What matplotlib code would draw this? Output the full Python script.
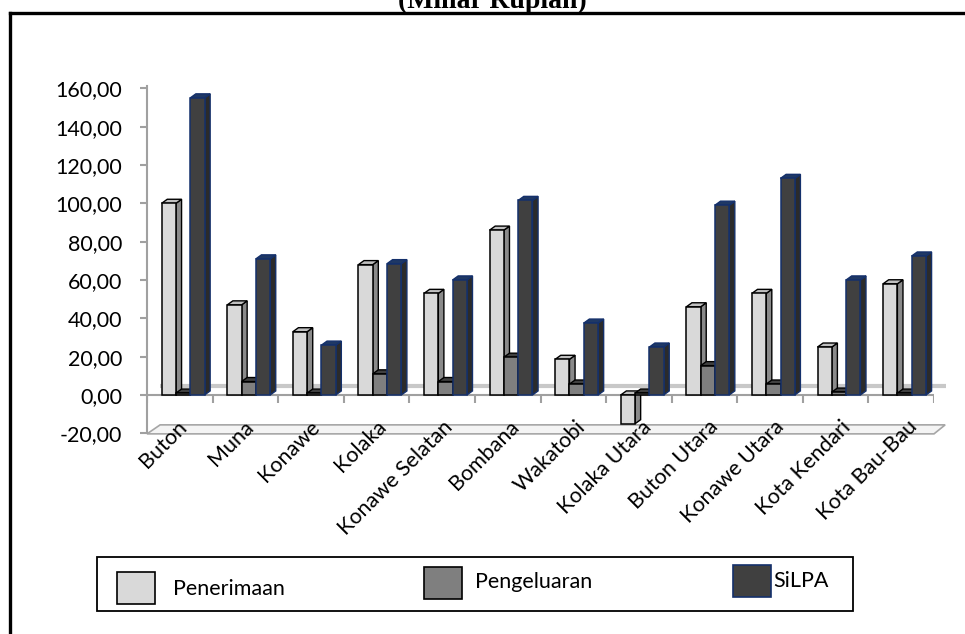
import numpy as np
import matplotlib
matplotlib.use("Agg")
import matplotlib.pyplot as plt
from matplotlib.patches import Polygon, Rectangle
from matplotlib.lines import Line2D

plt.rcParams['font.family'] = ['Lato', 'DejaVu Sans']

categories = ['Buton', 'Muna', 'Konawe', 'Kolaka', 'Konawe Selatan', 'Bombana',
              'Wakatobi', 'Kolaka Utara', 'Buton Utara', 'Konawe Utara',
              'Kota Kendari', 'Kota Bau-Bau']
penerimaan = [100.0, 47.0, 33.0, 68.0, 53.0, 86.0, 18.6, -15.0, 46.0, 53.0, 25.0, 58.0]
pengeluaran = [1.0, 7.0, 1.0, 11.0, 7.0, 19.7, 5.7, 1.0, 15.3, 5.7, 1.5, 1.0]
silpa = [155.0, 71.0, 26.0, 68.5, 60.0, 101.5, 37.5, 25.0, 99.0, 113.0, 60.0, 72.5]
series_names = ['Penerimaan', 'Pengeluaran', 'SiLPA']
yticks = [-20, 0, 20, 40, 60, 80, 100, 120, 140, 160]

W, H = 965, 634


def fx(px):
    return px / W


def fy(py):
    return 1 - py / H


fig = plt.figure(figsize=(W / 100, H / 100), dpi=100)
fig.patch.set_facecolor('white')

ax = fig.add_axes([fx(147), fy(433.3), fx(934) - fx(147), fy(78.7) - fy(433.3)])
ax.set_xlim(-0.5, 11.5)
ax.set_ylim(-20, 165)
ax.set_facecolor('none')

# styles: front, side, top, edge
styles = [
    ('#d9d9d9', '#8a8a8a', '#c0c0c0', 'black'),
    ('#7f7f7f', '#555555', '#404040', 'black'),
    ('#404040', '#2b2b2b', '#1f3864', '#14306b'),
]
offsets = [-0.276, -0.058, 0.160]
width = 0.218
dx, dy = 0.085, 2.1

# floor and back zero line
floor = Polygon([(-0.5, -20.3), (-0.30, -15.6), (11.67, -15.6), (11.5, -20.3)],
                closed=True, facecolor='#f4f4f4', edgecolor='#a6a6a6', lw=1.2,
                clip_on=False, zorder=1)
ax.add_patch(floor)
ax.plot([-0.30, 11.68], [4.7, 4.7], color='#c8c8c8', lw=3, zorder=1, clip_on=False,
        solid_capstyle='butt')

xs = np.arange(len(categories))
for k, vals in enumerate([penerimaan, pengeluaran, silpa]):
    front, side, top, edge = styles[k]
    x0 = xs + offsets[k]
    ax.bar(x0, vals, width=width, align='edge', color=front, edgecolor=edge,
           lw=1.1, zorder=4 + 2 * k)
    for xi, v in zip(x0, vals):
        lo, hi = min(0, v), max(0, v)
        ax.add_patch(Polygon([(xi + width, lo), (xi + width + dx, lo + dy),
                              (xi + width + dx, hi + dy), (xi + width, hi)],
                             closed=True, facecolor=side, edgecolor=edge, lw=1.0,
                             zorder=3 + 2 * k))
        ax.add_patch(Polygon([(xi, hi), (xi + dx, hi + dy),
                              (xi + width + dx, hi + dy), (xi + width, hi)],
                             closed=True, facecolor=top, edgecolor=edge, lw=1.0,
                             zorder=3 + 2 * k))

# front zero line with category ticks
ax.plot([-0.5, 11.5], [0, 0], color='#a0a0a0', lw=1.5, zorder=2)
ax.vlines(np.arange(-0.5, 12), -4.2, 0, color='#a0a0a0', lw=1.5, zorder=2)

for s in ['top', 'right', 'bottom']:
    ax.spines[s].set_visible(False)
ax.spines['left'].set_color('#a0a0a0')
ax.spines['left'].set_linewidth(1.5)
ax.spines['left'].set_bounds(-20, 161)
ax.set_yticks(yticks)
ax.set_yticklabels([f"{v:.2f}".replace('.', ',') for v in yticks], fontsize=15.5)
ax.tick_params(axis='y', direction='out', length=5, color='#a0a0a0', width=1.5,
               pad=13)
ax.set_xticks([])

for i, name in enumerate(categories):
    ax.text(i + 0.06 + 0.012 * i, -15.0, name, rotation=45, rotation_mode='anchor',
            ha='right', va='center', fontsize=15.5)

# outer frame
fig.add_artist(Line2D([fx(10), 1.0], [fy(13), fy(13)], color='black', lw=2.4,
                      transform=fig.transFigure))
fig.add_artist(Line2D([fx(10), fx(10)], [fy(13), 0.0], color='black', lw=2.4,
                      transform=fig.transFigure))
fig.text(fx(492), fy(8), '(Miliar Rupiah)', ha='center', va='baseline',
         fontsize=20, fontweight='bold', family='Liberation Serif')

# legend box
fig.add_artist(Rectangle((fx(97), fy(611)), fx(853) - fx(97), fy(557) - fy(611),
                         transform=fig.transFigure, facecolor='white',
                         edgecolor='black', lw=1.3))
legend_pos = [(117, 572, 173, 589), (424, 567, 475, 582), (733, 565, 773, 581)]
for k, (px, py, tx, ty) in enumerate(legend_pos):
    front, side, top, edge = styles[k]
    fig.add_artist(Rectangle((fx(px), fy(py + 32)), fx(38), fy(0) - fy(32),
                             transform=fig.transFigure, facecolor=front,
                             edgecolor=edge, lw=1.2))
    fig.text(fx(tx), fy(ty), series_names[k], ha='left', va='center', fontsize=15.5)

fig.savefig('out.png', dpi=100)
